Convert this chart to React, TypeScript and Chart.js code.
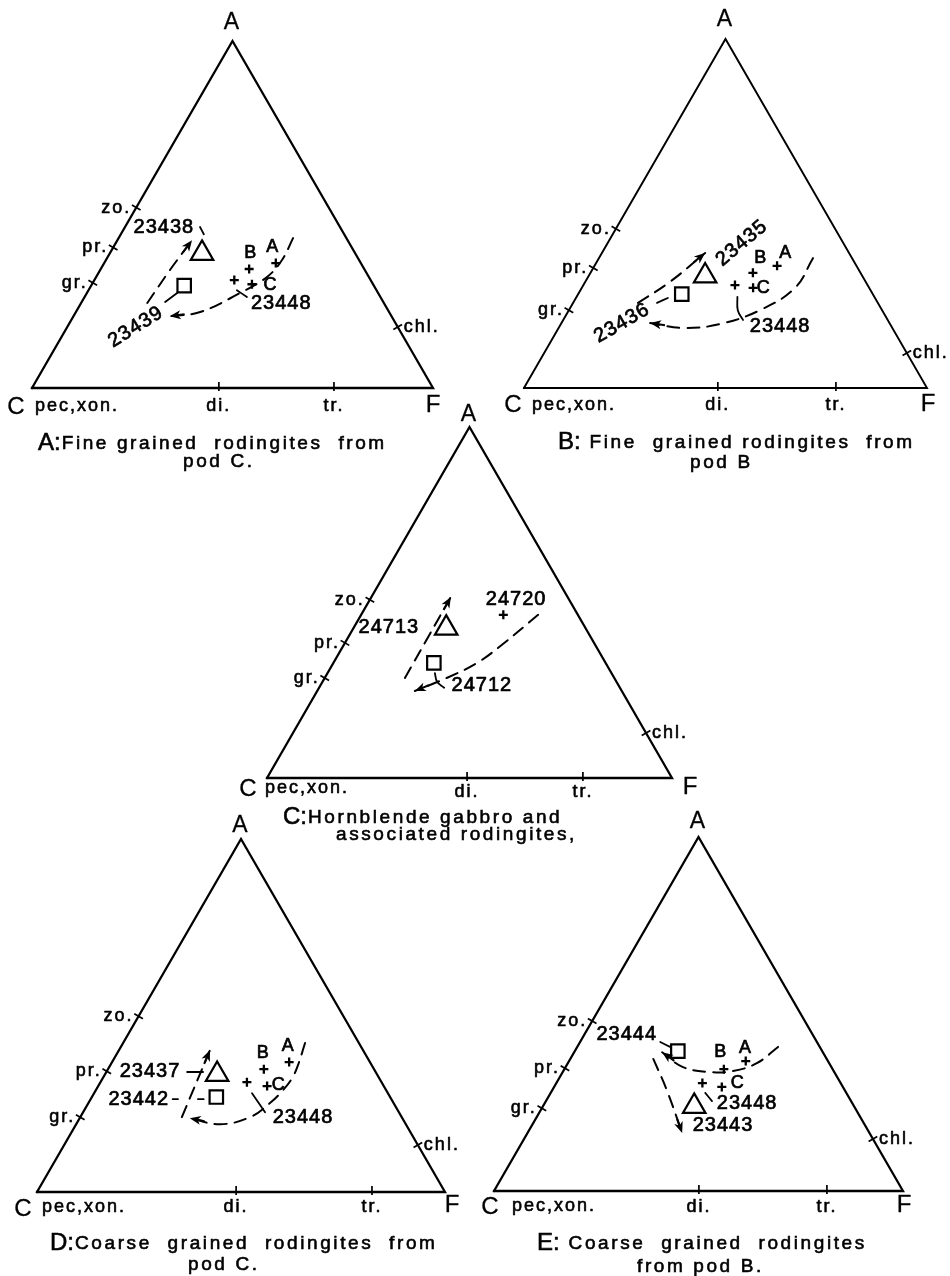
import React, { useEffect, useRef } from "react";
import { Chart, registerables } from "chart.js";

Chart.register(...registerables);

const SQ = Math.sqrt(3) / 2;
const FONT = '"Liberation Sans", Arial, sans-serif';

type Pt = [number, number]; // [A %, F %]  (C % = 100 - A - F)
type Mineral = [string, number, number];
type Label = [string, number, number, number];

// Triangle corners in [A %, F %]
const cornerC: Pt = [0, 0];
const cornerF: Pt = [0, 100];
const cornerA: Pt = [100, 0];

// ---------------- Panel A : fine grained rodingites, pod C ----------------
const mineralsA: Mineral[] = [["zo.", 52.0, 0], ["pr.", 40.5, 0], ["gr.", 30.3, 0], ["chl.", 17.6, 82.4], ["di.", 0, 46.6], ["tr.", 0, 75.3], ["pec,xon.", 0, 0]];
const triangleA: Pt[] = [[38.8, 23.0]];
const squareA: Pt[] = [[29.5, 23.2]];
const crossesA: Pt[] = [[34.3, 37.0], [31.1, 34.9], [29.9, 39.9], [36.0, 42.8]];
const labelsA: Label[] = [["23438", 46.4, 9.7, 0], ["23439", 17.6, 17.1, -32], ["23448", 24.5, 49.9, 0], ["B", 38.9, 35.0, 0], ["A", 40.6, 39.6, 0], ["C", 29.7, 44.5, 0]];
const trendsA: Pt[][] = [
  [[24.5, 16.5], [34.0, 17.4], [42.6, 18.6]],
  [[43.2, 43.5], [36.9, 43.9], [32.0, 42.6], [27.4, 38.2], [21.9, 31.0], [20.7, 24.0]],
];
const leadersA: Pt[][] = [[[24.8, 20.8], [27.4, 22.5]], [[28.2, 37.0], [26.2, 40.5]], [[46.4, 18.7], [44.3, 20.7]]];

// ---------------- Panel B : fine grained rodingites, pod B ----------------
const mineralsB: Mineral[] = [["zo.", 45.6, 0], ["pr.", 34.4, 0], ["gr.", 22.3, 0], ["chl.", 10.0, 90.0], ["di.", 0, 48.1], ["tr.", 0, 77.4], ["pec,xon.", 0, 0]];
const triangleB: Pt[] = [[32.1, 28.9]];
const squareB: Pt[] = [[26.9, 25.7]];
const crossesB: Pt[] = [[33.0, 40.3], [35.0, 45.3], [28.7, 42.5], [29.5, 37.6]];
const labelsB: Label[] = [["23435", 41.5, 33.3, -40], ["23436", 18.6, 15.0, -30], ["23448", 17.5, 54.8, 0], ["B", 37.2, 40.0, 0], ["A", 38.7, 45.5, 0], ["C", 28.7, 45.0, 0]];
const trendsB: Pt[][] = [
  [[24.4, 16.1], [30.4, 21.0], [38.7, 25.6]],
  [[37.2, 53.1], [28.7, 52.9], [22.3, 47.4], [18.3, 39.4], [17.2, 30.9], [18.6, 22.0]],
];
const leadersB: Pt[][] = [[[24.4, 20.8], [25.8, 22.8]], [[26.1, 39.9], [22.3, 41.9], [19.5, 44.6]]];

// ---------------- Panel C : hornblende gabbro ----------------
const mineralsC: Mineral[] = [["zo.", 50.8, 0], ["pr.", 38.5, 0], ["gr.", 28.5, 0], ["chl.", 12.8, 87.2], ["di.", 0, 49.4], ["tr.", 0, 78.0], ["pec,xon.", 0, 0]];
const triangleC: Pt[] = [[42.7, 22.9]];
const squareC: Pt[] = [[32.8, 24.8]];
const crossesC: Pt[] = [[46.5, 35.1]];
const labelsC: Label[] = [["24720", 51.0, 36.0, 0], ["24713", 42.8, 8.7, 0], ["24712", 26.5, 39.8, 0]];
const trendsC: Pt[][] = [
  [[28.5, 19.8], [40.2, 19.7], [51.6, 19.6]],
  [[46.5, 43.7], [37.9, 39.0], [32.8, 35.5], [28.5, 30.1], [24.8, 24.1]],
];
const leadersC: Pt[][] = [[[29.9, 26.5], [27.4, 28.3], [25.7, 30.9]]];

// ---------------- Panel D : coarse grained rodingites, pod C ----------------
const mineralsD: Mineral[] = [["zo.", 49.8, 0], ["pr.", 34.2, 0], ["gr.", 21.2, 0], ["chl.", 13.3, 86.7], ["di.", 0, 48.8], ["tr.", 0, 82.1], ["pec,xon.", 0, 0]];
const triangleD: Pt[] = [[33.3, 27.5]];
const squareD: Pt[] = [[26.9, 30.5]];
const crossesD: Pt[] = [[31.1, 35.9], [34.8, 38.2], [36.8, 43.4], [30.0, 41.4]];
const labelsD: Label[] = [["23437", 34.0, 10.7, 0], ["23442", 26.3, 11.8, 0], ["23448", 21.2, 54.6, 0], ["B", 39.3, 35.7, 0], ["A", 41.3, 40.8, 0], ["C", 30.3, 44.0, 0]];
const trendsD: Pt[][] = [
  [[21.2, 24.9], [40.2, 22.3]],
  [[42.2, 44.6], [35.9, 46.0], [32.3, 46.4], [28.9, 45.9], [25.2, 44.5], [21.2, 41.6], [19.2, 35.3], [20.9, 27.0]],
];
const leadersD: Pt[][] = [[[34.0, 19.8], [34.0, 23.7]], [[26.3, 20.1], [26.3, 21.4]], [[26.3, 26.3], [26.3, 27.7]], [[28.0, 38.7], [22.6, 44.6]]];

// ---------------- Panel E : coarse grained rodingites, pod B ----------------
const mineralsE: Mineral[] = [["zo.", 48.0, 0], ["pr.", 34.7, 0], ["gr.", 23.4, 0], ["chl.", 14.7, 85.3], ["di.", 0, 50.1], ["tr.", 0, 81.4], ["pec,xon.", 0, 0]];
const triangleE: Pt[] = [[23.9, 37.0]];
const squareE: Pt[] = [[39.5, 25.2]];
const crossesE: Pt[] = [[30.5, 35.7], [34.4, 39.0], [36.7, 43.2], [29.4, 41.0]];
const labelsE: Label[] = [["23444", 44.3, 10.3, 0], ["23448", 24.8, 49.5, 0], ["23443", 18.4, 46.8, 0], ["B", 39.2, 35.7, 0], ["A", 40.4, 41.2, 0], ["C", 30.5, 44.2, 0]];
const trendsE: Pt[][] = [
  [[37.3, 20.3], [28.5, 28.0], [16.4, 37.8]],
  [[40.7, 49.1], [36.1, 46.2], [33.9, 41.5], [33.6, 36.0], [35.0, 28.7], [39.2, 21.5]],
];
const leadersE: Pt[][] = [[[42.1, 19.6], [40.7, 22.7]], [[27.7, 37.8], [25.4, 40.6]]];

type Panel = {
  minerals: Mineral[]; triangle: Pt[]; square: Pt[]; crosses: Pt[]; labels: Label[]; trends: Pt[][]; leaders: Pt[][];
  caption: [string, string, string];
  // layout (page pixels)
  cx: number; cy: number; w: number; lw: number;
  apexDy: number; cOff: [number, number]; fOff: [number, number]; pecOff: [number, number]; botDy: number;
  cap1: [number, number]; cap2: [number, number];
};

const panels: Panel[] = [
  { minerals: mineralsA, triangle: triangleA, square: squareA, crosses: crossesA, labels: labelsA, trends: trendsA, leaders: leadersA,
    caption: ["A:", "Fine grained  rodingites  from", "pod C."],
    cx: 32, cy: 388, w: 401, lw: 2.3, apexDy: 18, cOff: [-16, 19], fOff: [0, 17], pecOff: [3, 18], botDy: 18, cap1: [6, 55], cap2: [151, 74] },
  { minerals: mineralsB, triangle: triangleB, square: squareB, crosses: crossesB, labels: labelsB, trends: trendsB, leaders: leadersB,
    caption: ["B:", " Fine  grained rodingites  from", "pod B"],
    cx: 524, cy: 388, w: 403, lw: 1.9, apexDy: 19, cOff: [-11, 17], fOff: [1, 16], pecOff: [8, 17], botDy: 17, cap1: [34, 54], cap2: [166, 75] },
  { minerals: mineralsC, triangle: triangleC, square: squareC, crosses: crossesC, labels: labelsC, trends: trendsC, leaders: leadersC,
    caption: ["C:", "Hornblende gabbro and", "associated rodingites,"],
    cx: 267, cy: 778, w: 405, lw: 2.3, apexDy: 12, cOff: [-19, 11], fOff: [18, 9], pecOff: [-2, 10], botDy: 14, cap1: [16, 39], cap2: [69, 57] },
  { minerals: mineralsD, triangle: triangleD, square: squareD, crosses: crossesD, labels: labelsD, trends: trendsD, leaders: leadersD,
    caption: ["D:", "Coarse  grained  rodingites  from", "pod C."],
    cx: 37, cy: 1192, w: 408, lw: 2.3, apexDy: 13, cOff: [-14, 17], fOff: [7, 13], pecOff: [5, 15], botDy: 15, cap1: [13, 51], cap2: [151, 73] },
  { minerals: mineralsE, triangle: triangleE, square: squareE, crosses: crossesE, labels: labelsE, trends: trendsE, leaders: leadersE,
    caption: ["E:", " Coarse  grained  rodingites", "from pod B."],
    cx: 494, cy: 1191, w: 409, lw: 2.3, apexDy: 15, cOff: [-4, 16], fOff: [1, 14], pecOff: [18, 15], botDy: 16, cap1: [43, 52], cap2: [143, 76] },
];

const toXY = ([a, f]: Pt) => ({ x: f / 100 + a / 200, y: (a / 100) * SQ });

function makePlugin(p: Panel) {
  return {
    id: "ternaryDecor",
    afterDatasetsDraw(chart: any) {
      const ctx: CanvasRenderingContext2D = chart.ctx;
      const xs = chart.scales.x;
      const ys = chart.scales.y;
      const P = (a: number, f: number): [number, number] => {
        const q = toXY([a, f]);
        return [xs.getPixelForValue(q.x), ys.getPixelForValue(q.y)];
      };
      const text = (s: string, x: number, y: number, size: number, align: CanvasTextAlign, spacing = 0, rot = 0, weight = 0.6) => {
        ctx.save();
        ctx.font = `${size}px ${FONT}`;
        (ctx as any).letterSpacing = `${spacing}px`;
        ctx.fillStyle = "#000";
        ctx.strokeStyle = "#000";
        ctx.lineWidth = weight;
        ctx.lineJoin = "round";
        ctx.textAlign = align;
        ctx.textBaseline = "middle";
        ctx.translate(x, y);
        if (rot) ctx.rotate((rot * Math.PI) / 180);
        ctx.fillText(s, 0, 0);
        if (weight > 0) ctx.strokeText(s, 0, 0);
        ctx.restore();
      };
      ctx.save();
      ctx.strokeStyle = "#000";
      ctx.lineWidth = 1.7;
      // mineral ticks and labels
      for (const [name, a, f] of p.minerals) {
        const [x, y] = P(a, f);
        if (a === 0 && f === 0) {
          text(name, x + p.pecOff[0], y + p.pecOff[1], 18, "left", 2);
          continue;
        }
        ctx.beginPath();
        if (a === 0) {
          ctx.moveTo(x, y - 6);
          ctx.lineTo(x, y + 3);
          ctx.stroke();
          text(name, x, y + p.botDy, 18, "center", 2);
        } else if (f === 0) {
          const nx = SQ, ny = 0.5;
          ctx.moveTo(x - nx * 5, y - ny * 5);
          ctx.lineTo(x + nx * 5, y + ny * 5);
          ctx.stroke();
          text(name, x - 5, y, 18, "right", 2);
        } else {
          const nx = -SQ, ny = 0.5;
          ctx.moveTo(x - nx * 5, y - ny * 5);
          ctx.lineTo(x + nx * 5, y + ny * 5);
          ctx.stroke();
          text(name, x + 6, y, 18, "left", 2);
        }
      }
      // corner letters
      const [ax, ay] = P(cornerA[0], cornerA[1]);
      text("A", ax - 1, ay - p.apexDy, 23, "center", 0, 0, 0.3);
      const [ccx, ccy] = P(cornerC[0], cornerC[1]);
      text("C", ccx + p.cOff[0], ccy + p.cOff[1], 24, "center", 0, 0, 0.3);
      const [fx, fy] = P(cornerF[0], cornerF[1]);
      text("F", fx + p.fOff[0], fy + p.fOff[1], 24, "center", 0, 0, 0.3);
      // sample labels
      for (const [s, a, f, rot] of p.labels) {
        const [x, y] = P(a, f);
        const isLetter = s.length === 1;
        text(s, x, y, isLetter ? 18 : 20, "center", isLetter ? 0 : 1, rot, 0.7);
      }
      // arrow heads at end of trends
      ctx.fillStyle = "#000";
      for (const t of p.trends) {
        const [x1, y1] = P(t[t.length - 2][0], t[t.length - 2][1]);
        const [x2, y2] = P(t[t.length - 1][0], t[t.length - 1][1]);
        const ang = Math.atan2(y2 - y1, x2 - x1);
        ctx.save();
        ctx.translate(x2, y2);
        ctx.rotate(ang);
        ctx.beginPath();
        ctx.moveTo(0, 0);
        ctx.lineTo(-11, -4.5);
        ctx.lineTo(-8, 0);
        ctx.lineTo(-11, 4.5);
        ctx.closePath();
        ctx.fill();
        ctx.lineWidth = 2;
        ctx.beginPath();
        ctx.moveTo(-7, 0);
        ctx.lineTo(-15, 0);
        ctx.stroke();
        ctx.restore();
      }
      // caption
      const [c0x, c0y] = [ccx, ccy];
      ctx.save();
      ctx.fillStyle = "#000";
      ctx.strokeStyle = "#000";
      ctx.lineWidth = 0.6;
      ctx.textBaseline = "middle";
      ctx.textAlign = "left";
      ctx.font = `24px ${FONT}`;
      (ctx as any).letterSpacing = "0px";
      const px = c0x + p.cap1[0];
      const py = c0y + p.cap1[1];
      ctx.fillText(p.caption[0], px, py);
      ctx.strokeText(p.caption[0], px, py);
      const pw = ctx.measureText(p.caption[0]).width;
      ctx.font = `19px ${FONT}`;
      (ctx as any).letterSpacing = "2.6px";
      ctx.fillText(p.caption[1], px + pw + 1, py + 1);
      ctx.strokeText(p.caption[1], px + pw + 1, py + 1);
      ctx.fillText(p.caption[2], c0x + p.cap2[0], c0y + p.cap2[1]);
      ctx.strokeText(p.caption[2], c0x + p.cap2[0], c0y + p.cap2[1]);
      ctx.restore();
      ctx.restore();
    },
  };
}

function TernaryPanel({ p }: { p: Panel }) {
  const ref = useRef<HTMLCanvasElement>(null);
  const padL = 50, padR = 60, padT = 32, padB = 95;
  const h = p.w * SQ;
  const cw = Math.round(p.w) + padL + padR;
  const chh = Math.round(h) + padT + padB;
  const left = p.cx - padL;
  const top = Math.round(p.cy - h) - padT;

  useEffect(() => {
    if (!ref.current) return;
    const line = (pts: Pt[], dash: number[], width: number, tension: number) => ({
      data: pts.map(toXY),
      showLine: true,
      borderColor: "#000",
      borderWidth: width,
      borderDash: dash,
      tension,
      pointRadius: 0,
      clip: false as any,
      borderCapStyle: "round" as const,
    });
    const marker = (pts: Pt[], style: string, r: number, width: number) => ({
      data: pts.map(toXY),
      showLine: false,
      pointStyle: style,
      pointRadius: r,
      pointBorderWidth: width,
      pointBorderColor: "#000",
      pointBackgroundColor: "rgba(0,0,0,0)",
      borderColor: "#000",
      backgroundColor: "rgba(0,0,0,0)",
      clip: false as any,
    });
    const datasets: any[] = [
      { ...line([cornerC, cornerF, cornerA, cornerC], [], p.lw, 0), borderJoinStyle: "miter", borderCapStyle: "square" },
      ...p.trends.map((t) => line(t, [12, 8], 2, 0.4)),
      ...p.leaders.map((t) => line(t, [], 1.8, 0.4)),
      marker(p.triangle, "triangle", 13, 2.2),
      marker(p.square, "rect", 9.5, 2.2),
      marker(p.crosses, "cross", 4.5, 2.3),
    ];
    const chart = new Chart(ref.current, {
      type: "scatter",
      data: { datasets },
      options: {
        animation: false,
        responsive: false,
        devicePixelRatio: 1,
        events: [],
        layout: { padding: { left: padL, right: padR, top: padT, bottom: padB } },
        plugins: { legend: { display: false }, tooltip: { enabled: false }, title: { display: false } },
        scales: {
          x: { type: "linear", min: 0, max: 1, display: false },
          y: { type: "linear", min: 0, max: SQ, display: false },
        },
      },
      plugins: [makePlugin(p)],
    } as any);
    return () => chart.destroy();
  }, [p]);

  return (
    <canvas
      ref={ref}
      width={cw}
      height={chh}
      style={{ position: "absolute", left, top, width: cw, height: chh }}
    />
  );
}

export default function App() {
  return (
    <div style={{ position: "absolute", left: 0, top: 0, width: 950, height: 1276, background: "#fff", overflow: "hidden" }}>
      {panels.map((p, i) => (
        <TernaryPanel key={i} p={p} />
      ))}
    </div>
  );
}
